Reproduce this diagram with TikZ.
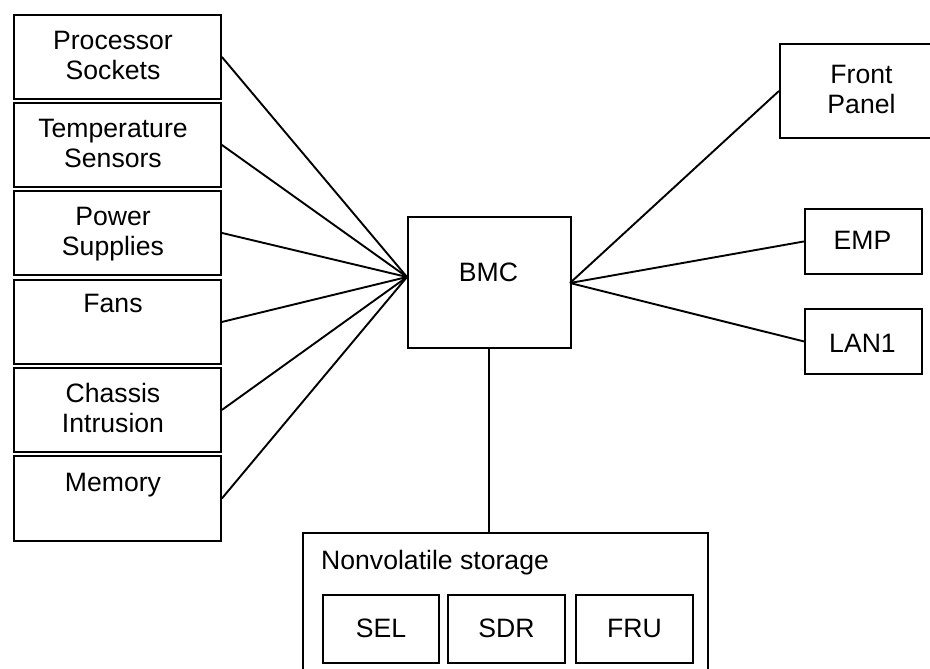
\documentclass[tikz,border=0pt]{standalone}
\usepackage{fontspec}
\setmainfont{Liberation Sans}
\usetikzlibrary{calc}
\newcommand{\ls}{\strut}
\tikzset{
  box/.style={draw=black, line width=1.9pt, fill=white, inner sep=0pt, anchor=north west},
  lbl/.style={inner sep=0pt, align=center, font=\fontsize{26.6}{30}\selectfont},
  wire/.style={draw=black, line width=1.9pt}
}
\begin{document}
\begin{tikzpicture}[x=1pt,y=-1pt]
\useasboundingbox (0,0) rectangle (930,669);
\clip (0,0) rectangle (930,669);
% left column boxes
\node[box, minimum width=207pt, minimum height=84pt] (ps) at (13,14) {};
\node[box, minimum width=207pt, minimum height=84pt] (ts) at (13,102) {};
\node[box, minimum width=207pt, minimum height=84pt] (pw) at (13,190) {};
\node[box, minimum width=207pt, minimum height=84pt] (fa) at (13,279) {};
\node[box, minimum width=207pt, minimum height=84pt] (ci) at (13,367) {};
\node[box, minimum width=207pt, minimum height=85pt] (me) at (13,455) {};
\node[lbl, anchor=north] (psl) at (113,28) {Processor\ls\\Sockets\ls};
\node[lbl, anchor=north] (tsl) at (113,116) {Temperature\ls\\Sensors\ls};
\node[lbl, anchor=north] (pwl) at (113,204) {Power\ls\\Supplies\ls};
\node[lbl, anchor=north] (fal) at (113,291) {Fans\ls};
\node[lbl, anchor=north] (cil) at (113,381) {Chassis\ls\\Intrusion\ls};
\node[lbl, anchor=north] (mel) at (113,470) {Memory\ls};
% BMC
\node[box, minimum width=163pt, minimum height=131pt] (bmc) at (407,216) {};
\node[lbl, anchor=north] (bmcl) at (488.5,260) {BMC\ls};
\coordinate (bmcL) at (407,277);
\coordinate (bmcR) at (570,283);
\coordinate (bmcB) at (489,347);
% right boxes
\node[box, minimum width=165pt, minimum height=94pt] (fp) at (779,43) {};
\node[lbl, anchor=north] (fpl) at (861.5,62) {Front\ls\\Panel\ls};
\node[box, minimum width=117pt, minimum height=65pt] (emp) at (804,208) {};
\node[lbl, anchor=north] (empl) at (862.5,228) {EMP\ls};
\node[box, minimum width=117pt, minimum height=65pt] (lan) at (804,308) {};
\node[lbl, anchor=north] (lanl) at (862.5,331) {LAN1\ls};
% nonvolatile storage
\node[box, minimum width=405pt, minimum height=170pt] (nv) at (302,532) {};
\node[lbl, anchor=base west] (nvl) at (321,569) {Nonvolatile storage};
\node[box, minimum width=116pt, minimum height=68pt] (sel) at (322,594) {};
\node[box, minimum width=117pt, minimum height=68pt] (sdr) at (447,594) {};
\node[box, minimum width=117pt, minimum height=68pt] (fru) at (575,594) {};
\node[lbl, anchor=base] (sell) at (sel.center |- 0,637) {SEL};
\node[lbl, anchor=base] (sdrl) at (sdr.center |- 0,637) {SDR};
\node[lbl, anchor=base] (frul) at (fru.center |- 0,637) {FRU};
% connectors
\draw[wire] (ps.east) -- (bmcL);
\draw[wire] (ts.east) -- (bmcL);
\draw[wire] (pw.east) -- (bmcL);
\draw[wire] (fa.east) -- (bmcL);
\draw[wire] (ci.east) -- (bmcL);
\draw[wire] (me.east) -- (bmcL);
\draw[wire] (fp.west) -- (bmcR);
\draw[wire] (emp.west) -- (bmcR);
\draw[wire] (lan.west) -- (bmcR);
\draw[wire] (bmcB) -- (bmcB |- nv.north);
\end{tikzpicture}
\end{document}
